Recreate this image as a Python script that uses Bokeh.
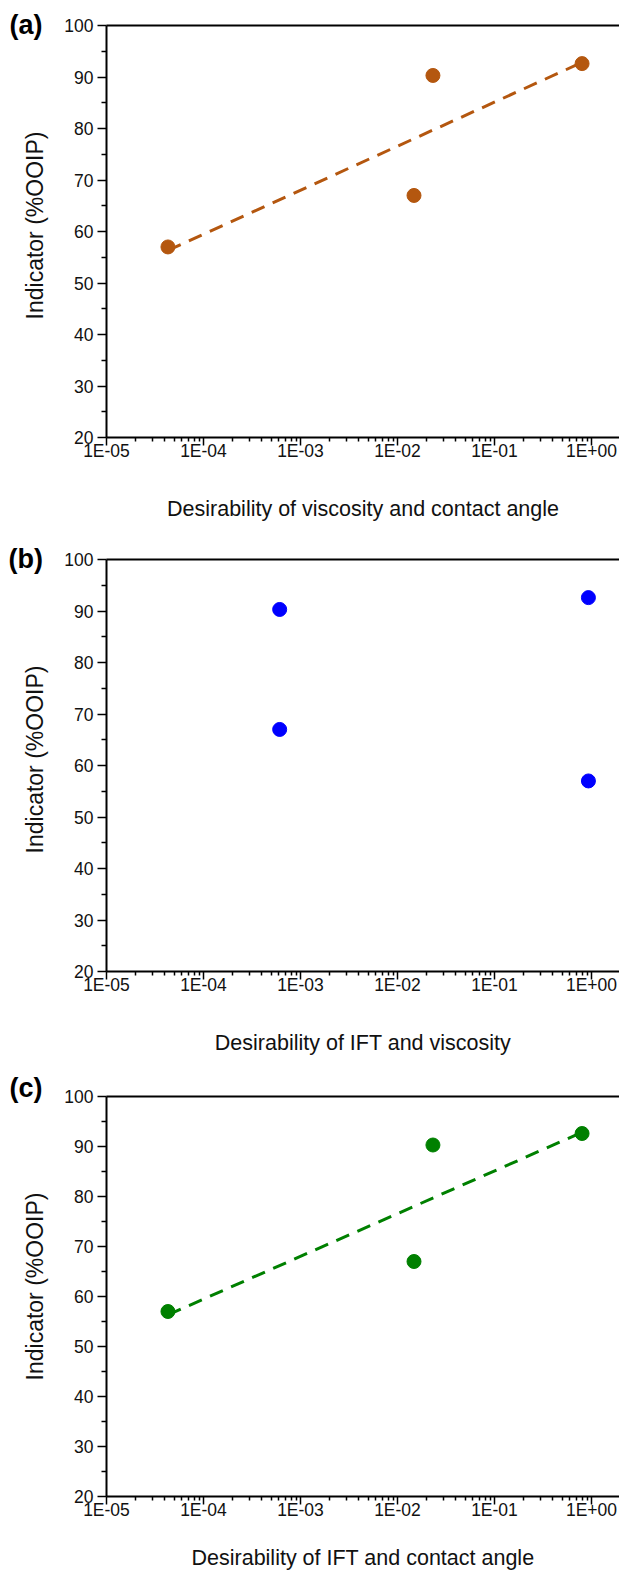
import numpy as np
from bokeh.plotting import figure
from bokeh.layouts import column
from bokeh.models import (LogAxis, FixedTicker, Label, ColumnDataSource)
from bokeh.embed import file_html
from bokeh.resources import INLINE

# ---- data ----
x_ticks = [1e-5, 1e-4, 1e-3, 1e-2, 1e-1, 1e0]
x_tick_labels = ["1E-05", "1E-04", "1E-03", "1E-02", "1E-01", "1E+00"]
y_ticks = [20, 30, 40, 50, 60, 70, 80, 90, 100]

recovery = [57.0, 67.0, 90.3, 92.6]

desir_visc_ca = [4.3e-5, 0.0148, 0.0232, 0.80]
desir_ift_visc = [6.1e-4, 6.1e-4, 0.93, 0.93]
recovery_b = [90.3, 67.0, 92.6, 57.0]
desir_ift_ca = [4.3e-5, 0.0148, 0.0232, 0.80]

panel_labels = ["(a)", "(b)", "(c)"]
y_title = "Indicator (%OOIP)"
x_titles = ["Desirability of viscosity and contact angle",
            "Desirability of IFT and viscosity",
            "Desirability of IFT and contact angle"]
colors = ["#B4570F", "#0000FF", "#008000"]

FONT = "Liberation Sans"
W = 619
X_RANGE = (1e-5, 1.945)

x_minor = [m * 10.0 ** e for e in range(-5, 0) for m in range(2, 10)]
y_minor = [25, 35, 45, 55, 65, 75, 85, 95]


def make_panel(xs, ys, color, label, xtitle, height, top, frame_h, title_standoff, fit):
    bottom = height - top - frame_h
    p = figure(width=W, height=height, x_axis_type="log", x_range=X_RANGE,
               y_range=(20, 100), output_backend="svg", toolbar_location=None,
               min_border_left=106, min_border_right=0, min_border_top=top,
               min_border_bottom=bottom)
    p.xgrid.visible = False
    p.ygrid.visible = False
    p.outline_line_color = None
    p.background_fill_color = "white"
    p.border_fill_color = "white"

    xa = p.xaxis[0]
    xa.ticker = FixedTicker(ticks=x_ticks, minor_ticks=x_minor)
    xa.major_label_overrides = {t: l for t, l in zip(x_ticks, x_tick_labels)}
    ya = p.yaxis[0]
    ya.ticker = FixedTicker(ticks=y_ticks, minor_ticks=y_minor)

    for ax in (xa, ya):
        ax.axis_line_width = 2
        ax.axis_line_color = "black"
        ax.major_tick_line_width = 1.5
        ax.minor_tick_line_width = 1.5
        ax.major_tick_line_color = "black"
        ax.minor_tick_line_color = "black"
        ax.major_tick_in = 0
        ax.minor_tick_in = 0
        ax.major_tick_out = 8
        ax.minor_tick_out = 5
        ax.major_label_text_font = FONT
        ax.major_label_text_font_size = "17.5px"
        ax.major_label_text_color = "#111111"
        ax.axis_label_text_font = FONT
        ax.axis_label_text_font_style = "normal"
        ax.axis_label_text_color = "#111111"

    xa.major_label_standoff = -5
    xa.minor_tick_out = 4
    xa.axis_label = xtitle
    xa.axis_label_text_font_size = "21.5px"
    xa.axis_label_standoff = title_standoff
    ya.major_tick_out = 9
    ya.major_label_standoff = 4

    top_axis = LogAxis(ticker=FixedTicker(ticks=[]), major_tick_line_color=None,
                       minor_tick_line_color=None, major_tick_out=0, minor_tick_out=0,
                       major_label_text_font_size="0px", major_label_standoff=0,
                       axis_line_width=2, axis_line_color="black")
    p.add_layout(top_axis, "above")

    if fit:
        lx = np.log10(np.array(xs))
        coef = np.polyfit(lx, np.array(ys), 1)
        fx = [min(xs), max(xs)]
        fy = list(np.polyval(coef, np.log10(fx)))
        p.line(fx, fy, line_color=color, line_width=3, line_dash="14 9")

    src = ColumnDataSource(dict(x=xs, y=ys))
    p.scatter("x", "y", source=src, size=14, fill_color=color, line_color=color)

    # y-axis title (rotated) and panel letter live in the left border panel
    p.add_layout(Label(x=-1, y=frame_h / 2 + 6, x_units="screen", y_units="screen",
                       text=y_title, text_font=FONT, text_font_size="23px",
                       text_color="#111111", angle=np.pi / 2,
                       text_baseline="middle", text_align="center"), "left")
    p.add_layout(Label(x=7, y=frame_h + 1, x_units="screen", y_units="screen",
                       text=label, text_font=FONT, text_font_size="27px",
                       text_font_style="bold", text_color="black",
                       text_baseline="middle", text_align="left"), "left")
    return p


pa = make_panel(desir_visc_ca, recovery, colors[0], panel_labels[0], x_titles[0],
                height=533, top=25, frame_h=412, title_standoff=33, fit=True)
pb = make_panel(desir_ift_visc, recovery_b, colors[1], panel_labels[1], x_titles[1],
                height=533, top=26, frame_h=412, title_standoff=33, fit=False)
pc = make_panel(desir_ift_ca, recovery, colors[2], panel_labels[2], x_titles[2],
                height=506, top=30, frame_h=408, title_standoff=23, fit=True)

layout = column(pa, pb, pc, spacing=0)
open("out.html", "w").write(file_html(layout, INLINE))
